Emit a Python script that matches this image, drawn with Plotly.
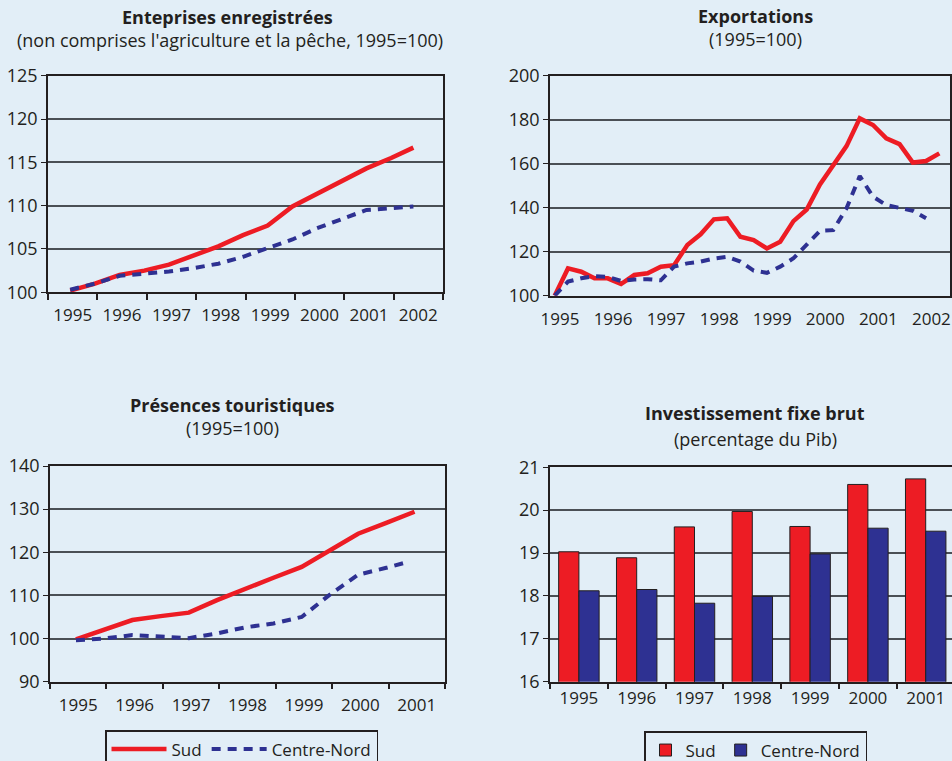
"""
Quatre graphiques Sud / Centre-Nord : entreprises, exportations,
présences touristiques et investissement fixe brut.
"""
import plotly.graph_objects as go

# --- Données -----------------------------------------------------------
# Entreprises enregistrées (1995=100), relevés semestriels
periodes_entreprises = [1995.45, 1995.95, 1996.45, 1996.95, 1997.45, 1997.95, 1998.45,
                        1998.95, 1999.45, 1999.95, 2000.45, 2000.95, 2001.45, 2001.95, 2002.4]
entreprises_sud = [100.2, 101.0, 102.0, 102.5, 103.2, 104.3, 105.3, 106.6, 107.7,
                   109.9, 111.4, 112.8, 114.3, 115.5, 116.7]
entreprises_cn = [100.3, 101.0, 101.9, 102.1, 102.4, 102.8, 103.3, 104.1, 105.1,
                  106.1, 107.4, 108.5, 109.5, 109.7, 109.9]

# Exportations (1995=100), trimestrielles
trimestres = [1995.0, 1995.25, 1995.5, 1995.75, 1996.0, 1996.25, 1996.5, 1996.75,
              1997.0, 1997.25, 1997.5, 1997.75, 1998.0, 1998.25, 1998.5, 1998.75,
              1999.0, 1999.25, 1999.5, 1999.75, 2000.0, 2000.25, 2000.5, 2000.75,
              2001.0, 2001.25, 2001.5, 2001.75, 2002.0, 2002.25]
export_sud = [100, 112.4, 110.9, 107.9, 107.9, 105.3, 109.4, 110.2, 113.2, 113.9,
              123.0, 127.9, 134.7, 135.2, 126.8, 125.3, 121.5, 124.5, 133.9, 139.2,
              150.6, 159.1, 168.0, 180.6, 177.6, 171.5, 168.9, 160.5, 161.2, 164.7]
export_cn = [100, 106.4, 107.9, 108.9, 108.6, 106.7, 107.4, 107.5, 107.0, 113.2,
             114.7, 115.5, 116.9, 117.7, 115.5, 111.4, 110.4, 113.2, 117.0, 123.3,
             129.5, 129.8, 139.7, 154.4, 145.0, 141.2, 139.8, 138.6, 135.2]

# Présences touristiques (1995=100), semestrielles
periodes_tourisme_sud = [1995.46, 1995.96, 1996.46, 1996.96, 1997.46, 1997.96, 1998.46,
                         1998.96, 1999.46, 1999.96, 2000.46, 2000.96, 2001.46]
tourisme_sud = [99.8, 102.1, 104.3, 105.2, 106.0, 108.9, 111.6, 114.1, 116.6,
                120.6, 124.3, 126.8, 129.4]
periodes_tourisme_cn = [1995.46, 1995.96, 1996.46, 1996.96, 1997.46, 1997.96, 1998.46,
                        1998.96, 1999.46, 1999.96, 2000.46, 2000.96, 2001.3]
tourisme_cn = [99.6, 100.0, 100.8, 100.4, 100.1, 101.2, 102.6, 103.5, 105.0,
               110.2, 114.8, 116.4, 117.6]

# Investissement fixe brut (% du Pib)
annees = ["1995", "1996", "1997", "1998", "1999", "2000", "2001"]
invest_sud = [19.03, 18.89, 19.61, 19.97, 19.62, 20.60, 20.73]
invest_cn = [18.12, 18.15, 17.83, 17.99, 18.98, 19.58, 19.51]

# --- Styles ------------------------------------------------------------
ROUGE = "#ed1c24"
BLEU = "#2e3192"
FOND = "#e2eef7"
TRAIT = "#231f20"
GRILLE = "#4a4f55"
POLICE = "'Open Sans', Lato, sans-serif"
TAILLE_Y = 18
TAILLE_X = 17

W, H = 952, 761


def px_x(p):
    return p / W


def px_y(p):
    return 1 - p / H


def axe_y(domaine, plage, pas):
    return dict(
        domain=domaine, range=plage, dtick=pas, showline=True, linecolor=TRAIT,
        linewidth=1.5, mirror=True, ticks="outside", ticklen=5, tickcolor=TRAIT,
        showgrid=True, gridcolor=GRILLE, gridwidth=1.5, zeroline=False,
        tickfont=dict(size=TAILLE_Y, color=TRAIT),
    )


def axe_x_annuel(domaine, debut, fin):
    # étiquettes au milieu de chaque année, graduations aux limites
    return dict(
        domain=domaine, range=[debut, fin], showline=True, linecolor=TRAIT,
        linewidth=1.5, mirror=True, showgrid=False, zeroline=False,
        tickvals=[a + 0.5 for a in range(debut, fin)],
        ticktext=[str(a) for a in range(debut, fin)], ticks="",
        minor=dict(tickvals=list(range(debut, fin + 1)), ticks="outside",
                   ticklen=6, tickcolor=TRAIT, tickwidth=1.5, showgrid=False),
        ticklabelstandoff=7,
        tickfont=dict(size=TAILLE_X, color=TRAIT),
    )


fig = go.Figure()

# Entreprises
fig.add_trace(go.Scatter(x=periodes_entreprises, y=entreprises_sud, mode="lines",
                         line=dict(color=ROUGE, width=4.5), showlegend=False,
                         xaxis="x", yaxis="y"))
fig.add_trace(go.Scatter(x=periodes_entreprises, y=entreprises_cn, mode="lines",
                         line=dict(color=BLEU, width=4, dash="9px,7px"), showlegend=False,
                         xaxis="x", yaxis="y"))

# Exportations
fig.add_trace(go.Scatter(x=trimestres, y=export_sud, mode="lines",
                         line=dict(color=ROUGE, width=4.5), showlegend=False,
                         xaxis="x2", yaxis="y2"))
fig.add_trace(go.Scatter(x=trimestres[:len(export_cn)], y=export_cn, mode="lines",
                         line=dict(color=BLEU, width=4, dash="9px,7px"), showlegend=False,
                         xaxis="x2", yaxis="y2"))

# Présences touristiques (porte la légende des courbes)
fig.add_trace(go.Scatter(x=periodes_tourisme_sud, y=tourisme_sud, mode="lines", name="Sud",
                         line=dict(color=ROUGE, width=4.5), legend="legend",
                         xaxis="x3", yaxis="y3"))
fig.add_trace(go.Scatter(x=periodes_tourisme_cn, y=tourisme_cn, mode="lines",
                         name="Centre-Nord", line=dict(color=BLEU, width=4, dash="9px,7px"),
                         legend="legend", xaxis="x3", yaxis="y3"))

# Investissement
fig.add_trace(go.Bar(x=annees, y=invest_sud, name="Sud", marker_color=ROUGE,
                     marker_line=dict(color=TRAIT, width=1), legend="legend2",
                     xaxis="x4", yaxis="y4"))
fig.add_trace(go.Bar(x=annees, y=invest_cn, name="Centre-Nord", marker_color=BLEU,
                     marker_line=dict(color=TRAIT, width=1), legend="legend2",
                     xaxis="x4", yaxis="y4"))

# Titres
titres = [
    ("<b>Enteprises enregistrées</b>", 227, 17, 18),
    ("(non comprises l'agriculture et la pêche, 1995=100)", 230, 40, 18),
    ("<b>Exportations</b>", 755, 16, 18),
    ("(1995=100)", 755, 39, 18),
    ("<b>Présences touristiques</b>", 232, 405, 18),
    ("(1995=100)", 232, 428, 18),
    ("<b>Investissement fixe brut</b>", 755, 413, 18),
    ("(percentage du Pib)", 755, 439, 18),
]
annotations = [
    dict(text=t, x=px_x(x), y=px_y(y), xref="paper", yref="paper", showarrow=False,
         xanchor="center", yanchor="middle", font=dict(size=s, color=TRAIT))
    for t, x, y, s in titres
]

x_export = dict(
    domain=[px_x(550), px_x(950)], range=[1994.911, 2002.451], showline=True,
    linecolor=TRAIT, linewidth=1.5, mirror=True, showgrid=False, zeroline=False,
    tickvals=[a + 0.1 for a in range(1995, 2003)],
    ticktext=[str(a) for a in range(1995, 2003)], ticks="",
    ticklabeloverflow="allow", ticklabelstandoff=7,
    tickfont=dict(size=TAILLE_X, color=TRAIT),
)

x_invest = dict(
    domain=[px_x(550), 1.0], range=[-0.5, 6.455], type="category", showline=True,
    linecolor=TRAIT, linewidth=1.5, mirror=True, showgrid=False, tickson="boundaries",
    ticks="outside", ticklen=6, tickcolor=TRAIT, tickwidth=1.5,
    ticklabeloverflow="allow",
    tickfont=dict(size=TAILLE_X, color=TRAIT),
)

legende = dict(orientation="h", xanchor="left", yanchor="top", bgcolor=FOND,
               bordercolor=TRAIT, borderwidth=1.5, font=dict(size=17, color=TRAIT))

fig.update_layout(
    width=W, height=H,
    margin=dict(l=0, r=0, t=0, b=0, autoexpand=False),
    paper_bgcolor=FOND, plot_bgcolor=FOND,
    font=dict(family=POLICE, color=TRAIT),
    xaxis=dict(axe_x_annuel([px_x(48), px_x(443)], 1995, 2003), anchor="y"),
    yaxis=dict(axe_y([px_y(292.3), px_y(75.7)], [100, 125], 5), anchor="x"),
    xaxis2=dict(x_export, anchor="y2"),
    yaxis2=dict(axe_y([px_y(295.7), px_y(75.7)], [100, 200], 20), anchor="x2"),
    xaxis3=dict(axe_x_annuel([px_x(50), px_x(445)], 1995, 2002), anchor="y3"),
    yaxis3=dict(axe_y([px_y(681.7), px_y(466)], [90, 140], 10), anchor="x3"),
    xaxis4=dict(x_invest, anchor="y4"),
    yaxis4=dict(axe_y([px_y(681.7), px_y(467.3)], [16, 21], 1), anchor="x4"),
    barmode="group", bargap=0.3, bargroupgap=0,
    legend=dict(legende, x=px_x(105), y=px_y(730), itemwidth=55),
    legend2=dict(legende, x=px_x(644), y=px_y(731)),
    annotations=annotations,
)

# la page garde sinon la marge par défaut du navigateur
fig.write_html("out.html", config={"displayModeBar": False},
               post_script="document.body.style.margin = '0';")
